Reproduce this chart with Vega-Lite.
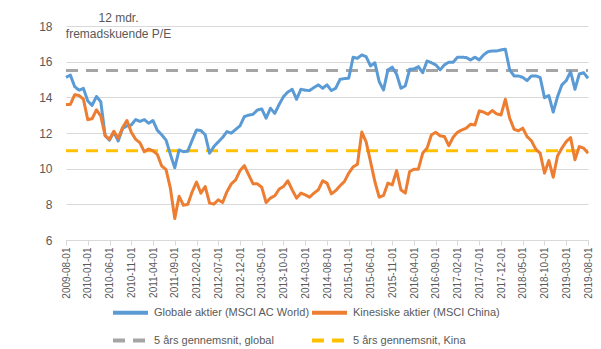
{
  "$schema": "https://vega.github.io/schema/vega-lite/v6.json",
  "autosize": {"type": "none"},
  "width": 522,
  "height": 214,
  "padding": {"left": 66, "top": 26, "right": 13, "bottom": 109},
  "background": "white",
  "config": {
    "font": "Liberation Sans",
    "view": {"stroke": null},
    "axis": {"labelColor": "#595959", "titleColor": "#595959", "labelFont": "Liberation Sans", "titleFont": "Liberation Sans"},
    "legend": {"labelColor": "#595959", "labelFont": "Liberation Sans"}
  },
  "data": {"values": [
    {"d":"2009-08-01","g":15.12,"k":13.6},{"d":"2009-09-01","g":15.25,"k":13.6},{"d":"2009-10-01","g":14.6,"k":14.15},{"d":"2009-11-01","g":14.4,"k":14.1},{"d":"2009-12-01","g":14.5,"k":13.9},
    {"d":"2010-01-01","g":13.8,"k":12.75},{"d":"2010-02-01","g":13.55,"k":12.8},{"d":"2010-03-01","g":14.05,"k":13.3},{"d":"2010-04-01","g":13.75,"k":12.95},{"d":"2010-05-01","g":11.85,"k":11.85},{"d":"2010-06-01","g":11.6,"k":11.65},{"d":"2010-07-01","g":12.05,"k":12.1},{"d":"2010-08-01","g":11.55,"k":11.7},{"d":"2010-09-01","g":12.25,"k":12.3},{"d":"2010-10-01","g":12.4,"k":12.7},{"d":"2010-11-01","g":12.45,"k":12.05},{"d":"2010-12-01","g":12.75,"k":11.65},
    {"d":"2011-01-01","g":12.65,"k":11.45},{"d":"2011-02-01","g":12.75,"k":10.95},{"d":"2011-03-01","g":12.55,"k":11.1},{"d":"2011-04-01","g":12.7,"k":11.0},{"d":"2011-05-01","g":12.15,"k":10.8},{"d":"2011-06-01","g":11.9,"k":10.15},{"d":"2011-07-01","g":11.6,"k":9.95},{"d":"2011-08-01","g":10.8,"k":8.9},{"d":"2011-09-01","g":10.05,"k":7.2},{"d":"2011-10-01","g":11.05,"k":8.45},{"d":"2011-11-01","g":10.95,"k":7.95},{"d":"2011-12-01","g":10.98,"k":8.0},
    {"d":"2012-01-01","g":11.6,"k":8.7},{"d":"2012-02-01","g":12.17,"k":9.25},{"d":"2012-03-01","g":12.14,"k":8.63},{"d":"2012-04-01","g":11.9,"k":9.0},{"d":"2012-05-01","g":10.87,"k":8.07},{"d":"2012-06-01","g":11.24,"k":8.01},{"d":"2012-07-01","g":11.5,"k":8.25},{"d":"2012-08-01","g":11.75,"k":8.1},{"d":"2012-09-01","g":12.08,"k":8.71},{"d":"2012-10-01","g":11.99,"k":9.15},{"d":"2012-11-01","g":12.2,"k":9.37},{"d":"2012-12-01","g":12.4,"k":9.89},
    {"d":"2013-01-01","g":12.92,"k":10.17},{"d":"2013-02-01","g":13.0,"k":9.65},{"d":"2013-03-01","g":13.05,"k":9.15},{"d":"2013-04-01","g":13.29,"k":9.15},{"d":"2013-05-01","g":13.35,"k":8.96},{"d":"2013-06-01","g":12.83,"k":8.1},{"d":"2013-07-01","g":13.39,"k":8.35},{"d":"2013-08-01","g":13.1,"k":8.48},{"d":"2013-09-01","g":13.6,"k":8.85},{"d":"2013-10-01","g":14.04,"k":9.0},{"d":"2013-11-01","g":14.3,"k":9.32},{"d":"2013-12-01","g":14.45,"k":8.81},
    {"d":"2014-01-01","g":13.89,"k":8.35},{"d":"2014-02-01","g":14.45,"k":8.63},{"d":"2014-03-01","g":14.4,"k":8.53},{"d":"2014-04-01","g":14.38,"k":8.4},{"d":"2014-05-01","g":14.55,"k":8.63},{"d":"2014-06-01","g":14.7,"k":8.81},{"d":"2014-07-01","g":14.51,"k":9.32},{"d":"2014-08-01","g":14.7,"k":9.19},{"d":"2014-09-01","g":14.38,"k":8.59},{"d":"2014-10-01","g":14.51,"k":8.77},{"d":"2014-11-01","g":15.01,"k":9.04},{"d":"2014-12-01","g":15.05,"k":9.28},
    {"d":"2015-01-01","g":15.07,"k":9.75},{"d":"2015-02-01","g":16.25,"k":10.1},{"d":"2015-03-01","g":16.19,"k":10.25},{"d":"2015-04-01","g":16.38,"k":12.05},{"d":"2015-05-01","g":16.28,"k":11.5},{"d":"2015-06-01","g":15.76,"k":10.4},{"d":"2015-07-01","g":15.94,"k":9.28},{"d":"2015-08-01","g":14.88,"k":8.4},{"d":"2015-09-01","g":14.41,"k":8.5},{"d":"2015-10-01","g":15.54,"k":9.19},{"d":"2015-11-01","g":15.69,"k":9.09},{"d":"2015-12-01","g":15.3,"k":9.89},
    {"d":"2016-01-01","g":14.51,"k":8.81},{"d":"2016-02-01","g":14.64,"k":8.63},{"d":"2016-03-01","g":15.57,"k":9.84},{"d":"2016-04-01","g":15.59,"k":9.97},{"d":"2016-05-01","g":15.72,"k":9.97},{"d":"2016-06-01","g":15.38,"k":10.87},{"d":"2016-07-01","g":16.04,"k":11.15},{"d":"2016-08-01","g":15.94,"k":11.89},{"d":"2016-09-01","g":15.82,"k":12.04},{"d":"2016-10-01","g":15.54,"k":11.84},{"d":"2016-11-01","g":15.82,"k":11.8},{"d":"2016-12-01","g":15.97,"k":11.29},
    {"d":"2017-01-01","g":15.97,"k":11.76},{"d":"2017-02-01","g":16.25,"k":12.04},{"d":"2017-03-01","g":16.25,"k":12.17},{"d":"2017-04-01","g":16.23,"k":12.27},{"d":"2017-05-01","g":16.1,"k":12.49},{"d":"2017-06-01","g":16.25,"k":12.45},{"d":"2017-07-01","g":16.1,"k":13.24},{"d":"2017-08-01","g":16.38,"k":13.17},{"d":"2017-09-01","g":16.56,"k":13.05},{"d":"2017-10-01","g":16.6,"k":13.26},{"d":"2017-11-01","g":16.6,"k":13.07},{"d":"2017-12-01","g":16.66,"k":13.01},
    {"d":"2018-01-01","g":16.7,"k":13.89},{"d":"2018-02-01","g":15.54,"k":12.83},{"d":"2018-03-01","g":15.2,"k":12.21},{"d":"2018-04-01","g":15.2,"k":12.12},{"d":"2018-05-01","g":15.12,"k":12.27},{"d":"2018-06-01","g":14.94,"k":11.8},{"d":"2018-07-01","g":15.2,"k":11.56},{"d":"2018-08-01","g":15.2,"k":11.09},{"d":"2018-09-01","g":15.12,"k":10.87},{"d":"2018-10-01","g":13.98,"k":9.75},{"d":"2018-11-01","g":14.1,"k":10.46},{"d":"2018-12-01","g":13.17,"k":9.52},
    {"d":"2019-01-01","g":14.04,"k":10.72},{"d":"2019-02-01","g":14.7,"k":11.15},{"d":"2019-03-01","g":14.94,"k":11.52},{"d":"2019-04-01","g":15.44,"k":11.74},{"d":"2019-05-01","g":14.45,"k":10.5},{"d":"2019-06-01","g":15.31,"k":11.24},{"d":"2019-07-01","g":15.38,"k":11.15},{"d":"2019-08-01","g":15.07,"k":10.87}
  ]},
  "transform": [
    {"fold": ["g", "k"], "as": ["serie", "pe"]}
  ],
  "layer": [
    {
      "mark": {"type": "rule", "strokeWidth": 3, "strokeDash": [12, 8]},
      "data": {"values": [
        {"serie": "ag", "avg": 15.5, "d0": "2009-08-01", "d1": "2019-08-01"},
        {"serie": "ak", "avg": 11.0, "d0": "2009-08-01", "d1": "2019-08-01"}
      ]},
      "encoding": {
        "x": {"field": "d0", "type": "ordinal"},
        "x2": {"field": "d1"},
        "y": {"field": "avg", "type": "quantitative"},
        "color": {"field": "serie", "type": "nominal"},
        "strokeDash": {"field": "serie", "type": "nominal"}
      }
    },
    {
      "mark": {"type": "line", "strokeWidth": 3, "strokeJoin": "round"},
      "encoding": {
        "x": {"field": "d", "type": "ordinal"},
        "y": {"field": "pe", "type": "quantitative"},
        "color": {"field": "serie", "type": "nominal"},
        "strokeDash": {"field": "serie", "type": "nominal"}
      }
    }
  ],
  "encoding": {
    "x": {
      "field": "d", "type": "ordinal",
      "scale": {"type": "point", "padding": 0},
      "axis": {
        "title": null,
        "values": ["2009-08-01","2010-01-01","2010-06-01","2010-11-01","2011-04-01","2011-09-01","2012-02-01","2012-07-01","2012-12-01","2013-05-01","2013-10-01","2014-03-01","2014-08-01","2015-01-01","2015-06-01","2015-11-01","2016-04-01","2016-09-01","2017-02-01","2017-07-01","2017-12-01","2018-05-01","2018-10-01","2019-03-01","2019-08-01"],
        "labelAngle": -90, "labelFontSize": 10, "labelPadding": 2,
        "tickSize": 5, "tickColor": "#d9d9d9", "domainColor": "#d9d9d9", "domainWidth": 1,
        "grid": false
      }
    },
    "y": {
      "field": "pe", "type": "quantitative",
      "scale": {"domain": [6, 18], "nice": false, "zero": false},
      "axis": {
        "values": [6, 8, 10, 12, 14, 16, 18],
        "title": ["12 mdr.", "fremadskuende P/E"],
        "titleAngle": 0, "titleAlign": "center", "titleBaseline": "alphabetic",
        "titleX": 52, "titleY": -5, "titleFontSize": 12, "titleFontWeight": "normal", "titleLineHeight": 16,
        "labelFontSize": 12, "labelPadding": 14,
        "tickSize": 0, "domain": false,
        "grid": true, "gridColor": "#d9d9d9", "gridWidth": 1
      }
    },
    "color": {
      "field": "serie", "type": "nominal",
      "scale": {"domain": ["g", "k", "ag", "ak"], "range": ["#5b9bd5", "#ed7d31", "#a5a5a5", "#ffc000"]},
      "legend": {
        "title": null, "orient": "none", "direction": "horizontal", "legendX": 45, "legendY": 267, "columns": 2,
        "symbolType": "stroke", "symbolSize": 1225, "symbolStrokeWidth": 4,
        "labelFontSize": 11, "labelOffset": 4, "rowPadding": -13, "columnPadding": -14,
        "labelExpr": "datum.label == 'g' ? 'Globale aktier (MSCI AC World)' : datum.label == 'k' ? 'Kinesiske aktier (MSCI China)' : datum.label == 'ag' ? '5 års gennemsnit, global' : '5 års gennemsnit, Kina'"
      }
    },
    "strokeDash": {
      "field": "serie", "type": "nominal",
      "scale": {"domain": ["g", "k", "ag", "ak"], "range": [[1, 0], [1, 0], [12, 8], [12, 8]]},
      "legend": {
        "title": null, "orient": "none", "direction": "horizontal", "legendX": 45, "legendY": 267, "columns": 2,
        "symbolType": "stroke", "symbolSize": 1225, "symbolStrokeWidth": 4,
        "labelFontSize": 11, "labelOffset": 4, "rowPadding": -13, "columnPadding": -14,
        "labelExpr": "datum.label == 'g' ? 'Globale aktier (MSCI AC World)' : datum.label == 'k' ? 'Kinesiske aktier (MSCI China)' : datum.label == 'ag' ? '5 års gennemsnit, global' : '5 års gennemsnit, Kina'"
      }
    }
  }
}
